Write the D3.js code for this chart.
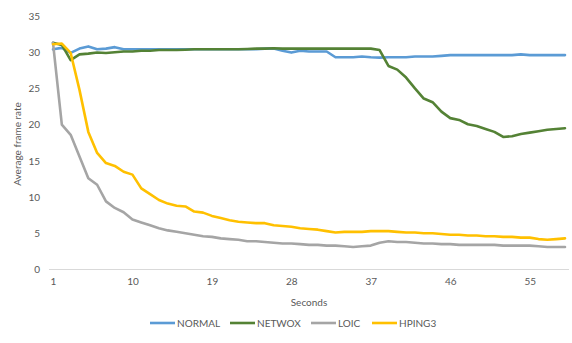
<html>
<head>
  <meta charset="utf-8" />
  <script src="https://cdnjs.cloudflare.com/ajax/libs/d3/7.8.5/d3.min.js"></script>
  <style>
    body { margin: 0; background: #fff; }
    text { font-family: Lato, "Open Sans", sans-serif; fill: #595959; }
  </style>
</head>
<body>
  <svg width="572" height="343"></svg>
  <script>
  // seconds 1..59
  var seconds = d3.range(1, 60);
  var xTicks = [1, 10, 19, 28, 37, 46, 55];
  var yTicks = [0, 5, 10, 15, 20, 25, 30, 35];

  var normal = [30.4,30.6,29.9,30.5,30.8,30.4,30.5,30.7,30.4,30.4,
    30.4,30.4,30.4,30.4,30.4,30.4,30.4,30.4,30.4,30.4,
    30.4,30.4,30.4,30.4,30.5,30.5,30.2,29.95,30.2,30.1,
    30.1,30.1,29.3,29.3,29.3,29.4,29.3,29.25,29.3,29.3,
    29.3,29.4,29.4,29.4,29.5,29.6,29.6,29.6,29.6,29.6,
    29.6,29.6,29.6,29.7,29.6,29.6,29.6,29.6,29.6];
  var netwox = [31.3,31.0,28.9,29.7,29.8,29.95,29.9,30.0,30.1,30.1,
    30.2,30.2,30.3,30.3,30.3,30.35,30.4,30.4,30.4,30.4,
    30.4,30.4,30.45,30.5,30.5,30.55,30.5,30.5,30.5,30.5,
    30.5,30.5,30.5,30.5,30.5,30.5,30.5,30.3,28.1,27.6,
    26.5,25.0,23.6,23.1,21.8,20.9,20.65,20.05,19.8,19.4,
    19.0,18.3,18.4,18.7,18.9,19.1,19.3,19.4,19.5];
  var loic = [31.3,20.0,18.6,15.6,12.6,11.7,9.4,8.5,7.9,6.9,
    6.5,6.1,5.7,5.4,5.2,5.0,4.8,4.6,4.5,4.3,
    4.2,4.1,3.9,3.9,3.8,3.7,3.6,3.6,3.5,3.4,
    3.4,3.3,3.3,3.2,3.1,3.2,3.3,3.7,3.9,3.8,
    3.8,3.7,3.6,3.6,3.5,3.5,3.4,3.4,3.4,3.4,
    3.4,3.3,3.3,3.3,3.3,3.2,3.1,3.1,3.1];
  var hping3 = [31.1,31.2,29.9,24.8,19.0,16.1,14.7,14.3,13.5,13.1,
    11.2,10.4,9.6,9.1,8.8,8.7,8.0,7.85,7.4,7.1,
    6.8,6.6,6.5,6.4,6.4,6.1,6.0,5.9,5.7,5.6,
    5.5,5.3,5.1,5.2,5.2,5.2,5.3,5.3,5.3,5.2,
    5.1,5.1,5.0,5.0,4.9,4.8,4.8,4.7,4.7,4.6,
    4.6,4.5,4.5,4.4,4.4,4.2,4.1,4.2,4.3];

  var seriesNames = ["NORMAL", "NETWOX", "LOIC", "HPING3"];
  var seriesValues = [normal, netwox, loic, hping3];
  var colors = ["#5B9BD5", "#548235", "#A5A5A5", "#FFC000"];

  var svg = d3.select("svg");
  var xScale = d3.scaleLinear().domain([1, 59]).range([53, 565]);
  var yScale = d3.scaleLinear().domain([0, 35]).range([269.5, 16]);

  // baseline
  svg.append("line")
    .attr("x1", 49).attr("x2", 569)
    .attr("y1", yScale(0)).attr("y2", yScale(0))
    .attr("stroke", "#D9D9D9").attr("stroke-width", 1);

  var yAxis = d3.axisLeft(yScale).tickValues(yTicks).tickSize(0).tickPadding(0);
  var gy = svg.append("g").attr("transform", "translate(40,0)").call(yAxis);
  gy.select(".domain").remove();
  gy.selectAll("text").style("font-size", "10px").attr("fill", "#595959");

  var xAxis = d3.axisBottom(xScale).tickValues(xTicks).tickSize(0).tickPadding(0);
  var gx = svg.append("g").attr("transform", "translate(0,278)").call(xAxis);
  gx.select(".domain").remove();
  gx.selectAll("text").style("font-size", "10px").attr("fill", "#595959");

  svg.append("text")
    .attr("transform", "translate(21,144) rotate(-90)")
    .attr("text-anchor", "middle")
    .style("font-size", "10px")
    .text("Average frame rate");

  svg.append("text")
    .attr("x", 309).attr("y", 306)
    .attr("text-anchor", "middle")
    .style("font-size", "10px")
    .text("Seconds");

  var line = d3.line()
    .x((d, i) => xScale(seconds[i]))
    .y(d => yScale(d));

  seriesValues.forEach((vals, k) => {
    svg.append("path")
      .attr("d", line(vals))
      .attr("fill", "none")
      .attr("stroke", colors[k])
      .attr("stroke-width", 2.6)
      .attr("stroke-linejoin", "round")
      .attr("stroke-linecap", "round");
  });

  // legend
  var legendX = [150, 230, 311, 372];
  seriesNames.forEach((name, k) => {
    var g = svg.append("g").attr("transform", "translate(" + legendX[k] + ",323)");
    g.append("line").attr("x1", 0).attr("x2", 25).attr("y1", 0).attr("y2", 0)
      .attr("stroke", colors[k]).attr("stroke-width", 2.6);
    g.append("text").attr("x", 27).attr("y", 3.5)
      .style("font-size", "10px").text(name);
  });
  </script>
</body>
</html>
